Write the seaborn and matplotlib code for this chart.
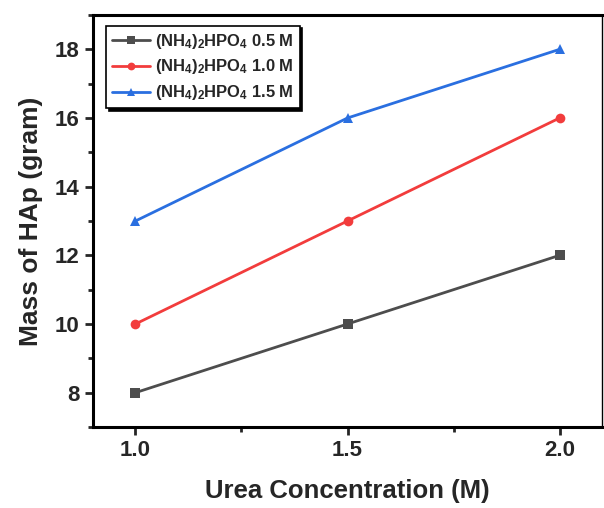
import matplotlib
matplotlib.use("Agg")
import matplotlib.pyplot as plt
import seaborn as sns
import pandas as pd
from matplotlib.ticker import MultipleLocator

urea = [1.0, 1.5, 2.0]
mass_05 = [8, 10, 12]
mass_10 = [10, 13, 16]
mass_15 = [13, 16, 18]
series_labels = [r"(NH$_4$)$_2$HPO$_4$ 0.5 M",
                 r"(NH$_4$)$_2$HPO$_4$ 1.0 M",
                 r"(NH$_4$)$_2$HPO$_4$ 1.5 M"]
x_ticks = [1.0, 1.5, 2.0]
x_ticklabels = ["1.0", "1.5", "2.0"]
y_ticks = [8, 10, 12, 14, 16, 18]
colors = ["#4d4d4d", "#f23c3c", "#2a6fe0"]
markers = ["s", "o", "^"]

df = pd.DataFrame({
    "urea": urea * 3,
    "mass": mass_05 + mass_10 + mass_15,
    "series": [series_labels[0]] * 3 + [series_labels[1]] * 3 + [series_labels[2]] * 3,
})

sns.set_style("ticks")
plt.rcParams["font.family"] = ["Liberation Sans", "DejaVu Sans"]
plt.rcParams["mathtext.fontset"] = "custom"
plt.rcParams["mathtext.rm"] = "Liberation Sans:bold"
plt.rcParams["mathtext.it"] = "Liberation Sans:bold"
plt.rcParams["mathtext.bf"] = "Liberation Sans:bold"

fig = plt.figure(figsize=(6.04, 5.08), dpi=100)
ax = fig.add_axes([93 / 604, 1 - 427 / 508, (602 - 93) / 604, (427 - 15) / 508])

sns.lineplot(data=df, x="urea", y="mass", hue="series", style="series",
             markers=dict(zip(series_labels, markers)), dashes=False,
             palette=dict(zip(series_labels, colors)), hue_order=series_labels,
             markersize=7, markeredgewidth=0, linewidth=2, ax=ax)

ax.set_xlim(0.9, 2.1)
ax.set_ylim(7, 19)
ax.set_xticks(x_ticks)
ax.set_xticklabels(x_ticklabels)
ax.set_yticks(y_ticks)
ax.set_yticklabels([str(v) for v in y_ticks])
ax.xaxis.set_minor_locator(MultipleLocator(0.25))
ax.yaxis.set_minor_locator(MultipleLocator(1))
ax.tick_params(axis="both", which="major", direction="out", length=6, width=2,
               labelsize=16)
ax.tick_params(axis="both", which="minor", direction="out", length=3.5, width=2)
for lab in ax.get_xticklabels() + ax.get_yticklabels():
    lab.set_fontweight("bold")

for side in ["left", "bottom", "top"]:
    ax.spines[side].set_linewidth(2.2)
ax.spines["right"].set_linewidth(1)
for side in ax.spines:
    ax.spines[side].set_visible(True)
    ax.spines[side].set_color("black")

ax.set_xlabel("Urea Concentration (M)", fontsize=18.5, fontweight="bold", labelpad=13)
ax.set_ylabel("Mass of HAp (gram)", fontsize=19, fontweight="bold", labelpad=9)

leg = ax.legend(loc="upper left", bbox_to_anchor=(0.02, 0.982), fontsize=11.9,
                frameon=True, fancybox=False, shadow={"color": "black", "alpha": 1},
                handlelength=2.3, borderpad=0.35, labelspacing=0.42,
                handletextpad=0.3, borderaxespad=0.2, markerscale=0.8)
leg.get_frame().set_edgecolor("black")
leg.get_frame().set_linewidth(1.2)
for t in leg.get_texts():
    t.set_fontweight("bold")

fig.savefig("out.png", dpi=100)
